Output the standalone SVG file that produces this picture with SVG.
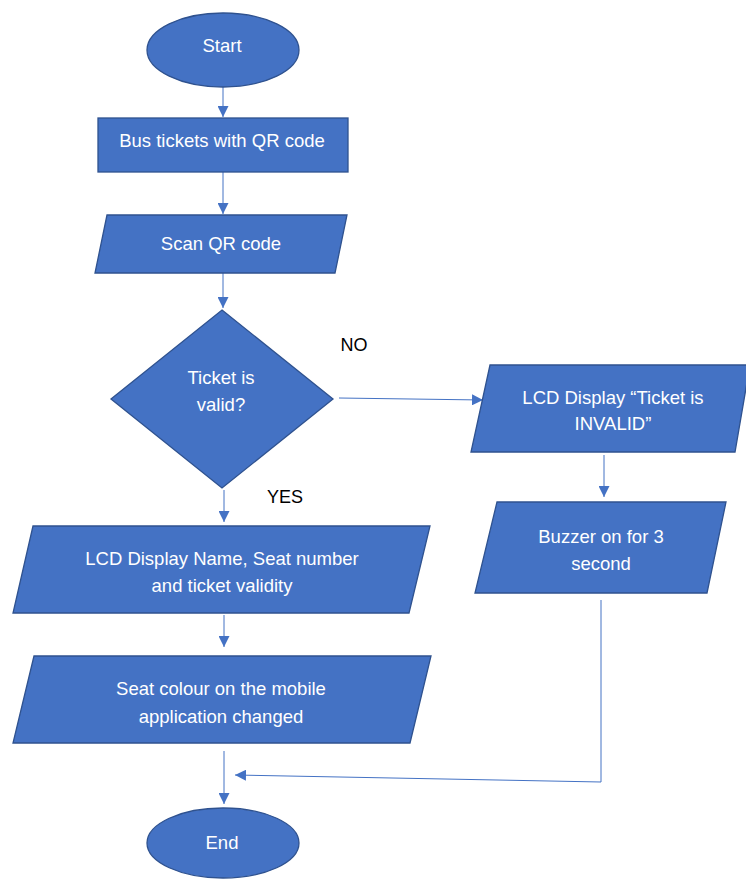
<svg xmlns="http://www.w3.org/2000/svg" width="746" height="879" viewBox="0 0 746 879">
<defs>
<style>
.s{fill:#4472C4;stroke:#2F528F;stroke-width:1.3}
.t{fill:#fff;font-family:"Liberation Sans",Arial,sans-serif;font-size:18.5px;text-anchor:middle;dominant-baseline:central}
.l{fill:#000;font-family:"Liberation Sans",Arial,sans-serif;font-size:18px;text-anchor:middle;dominant-baseline:central}
.c{fill:none;stroke:#4472C4;stroke-width:1}
</style>
<marker id="a" viewBox="0 0 10 10" refX="10" refY="5" markerWidth="11" markerHeight="11" markerUnits="userSpaceOnUse" orient="auto">
<path d="M0,0 L10,5 L0,10 Z" fill="#4472C4"/>
</marker>
</defs>
<rect width="746" height="879" fill="#fff"/>
<g id="connectors">
<line class="c" x1="223" y1="87" x2="223" y2="117" marker-end="url(#a)"/>
<line class="c" x1="223" y1="172" x2="223" y2="214" marker-end="url(#a)"/>
<line class="c" x1="223" y1="273" x2="223" y2="308" marker-end="url(#a)"/>
<line class="c" x1="339" y1="398" x2="483" y2="400" marker-end="url(#a)"/>
<line class="c" x1="604" y1="455" x2="604" y2="497" marker-end="url(#a)"/>
<line class="c" x1="224" y1="490" x2="224" y2="522" marker-end="url(#a)"/>
<line class="c" x1="224" y1="615" x2="224" y2="647" marker-end="url(#a)"/>
<line class="c" x1="224" y1="751" x2="224" y2="804" marker-end="url(#a)"/>
<polyline class="c" points="601,600 601,782 235,775" marker-end="url(#a)"/>
</g>
<g id="start">
<ellipse class="s" cx="223" cy="50" rx="76" ry="37"/>
<text class="t" x="222" y="45">Start</text>
</g>
<g id="bus-tickets">
<rect class="s" x="98" y="118" width="250" height="54"/>
<text class="t" x="222" y="140">Bus tickets with QR code</text>
</g>
<g id="scan">
<polygon class="s" points="107,215 347,215 335,273 95,273"/>
<text class="t" x="221" y="243">Scan QR code</text>
</g>
<g id="decision">
<polygon class="s" points="222,310 333,399 222,488 111,399"/>
<text class="t" x="221" y="377">Ticket is</text>
<text class="t" x="221" y="404">valid?</text>
</g>
<g id="lbl-no"><text class="l" x="354" y="345">NO</text></g>
<g id="lbl-yes"><text class="l" x="285" y="497">YES</text></g>
<g id="invalid">
<polygon class="s" points="490,365 750,365 735,452 471,452"/>
<text class="t" x="613" y="397">LCD Display “Ticket is</text>
<text class="t" x="613" y="423">INVALID”</text>
</g>
<g id="buzzer">
<polygon class="s" points="497,502 726,502 707,593 475,593"/>
<text class="t" x="601" y="536">Buzzer on for 3</text>
<text class="t" x="601" y="563">second</text>
</g>
<g id="lcd-name">
<polygon class="s" points="33,526 430,526 409,613 13,613"/>
<text class="t" x="222" y="558">LCD Display Name, Seat number</text>
<text class="t" x="222" y="585">and ticket validity</text>
</g>
<g id="seat-colour">
<polygon class="s" points="34,656 431,656 410,743 13,743"/>
<text class="t" x="221" y="688">Seat colour on the mobile</text>
<text class="t" x="221" y="716">application changed</text>
</g>
<g id="end">
<ellipse class="s" cx="223" cy="843" rx="76" ry="35"/>
<text class="t" x="222" y="842">End</text>
</g>
</svg>
